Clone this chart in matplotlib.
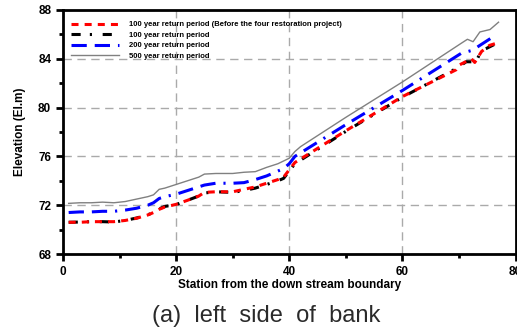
import numpy as np
import matplotlib
matplotlib.use("Agg")
import matplotlib.pyplot as plt

# ---- data ----
x_red = [1, 3, 5, 7, 9, 11, 13, 15, 16, 17, 18, 20, 22, 24, 25, 27, 30, 32, 34, 36, 38, 39, 40, 41,
         50, 60, 69.5, 70.1, 72.2, 72.8, 74.0, 75.4, 76.8]
y_red = [70.6, 70.6, 70.65, 70.65, 70.65, 70.75, 70.93, 71.2, 71.4, 71.66, 71.85, 72.07, 72.4, 72.75, 73.05, 73.1, 73.1, 73.3, 73.5, 73.8, 74.1, 74.3, 74.9, 75.5,
         78.1, 80.9, 83.1, 83.5, 84.0, 83.7, 84.6, 85.1, 85.3]

x_black = [1, 3, 5, 7, 9, 11, 13, 15, 16, 17, 18, 20, 22, 24, 25, 27, 30, 32, 34, 36, 38, 39, 40, 41,
           50, 60, 69.5, 71.3, 73.0, 74.0, 74.9, 76.8]
y_black = [70.6, 70.62, 70.65, 70.65, 70.62, 70.75, 70.95, 71.2, 71.45, 71.7, 71.9, 72.05, 72.4, 72.75, 73.0, 73.1, 73.05, 73.2, 73.4, 73.7, 74.0, 74.2, 74.8, 75.4,
           78.05, 80.85, 83.2, 83.76, 83.75, 84.7, 84.86, 85.3]

x_blue = [1, 3, 5, 7, 9, 11, 13, 15, 16, 17, 18, 20, 22, 24, 25, 27, 30, 32, 34, 36, 38, 39, 40, 41,
          50, 60, 70.4, 72.4, 73.7, 75.7]
y_blue = [71.4, 71.45, 71.45, 71.5, 71.5, 71.6, 71.75, 72.0, 72.2, 72.55, 72.7, 72.9, 73.2, 73.5, 73.65, 73.8, 73.8, 73.85, 74.1, 74.4, 74.8, 75.0, 75.4, 76.0,
          78.6, 81.4, 84.45, 84.7, 85.1, 85.7]

x_gray = [1, 3, 5, 7, 9, 11, 13, 15, 16, 17, 18, 20, 22, 24, 25, 27, 30, 32, 34, 36, 38, 40, 41, 42,
          50, 60, 70.4, 71.5, 72.5, 73.7, 75.5, 77.0]
y_gray = [72.15, 72.2, 72.2, 72.25, 72.2, 72.3, 72.5, 72.7, 72.85, 73.3, 73.4, 73.7, 74.0, 74.3, 74.55, 74.6, 74.6, 74.7, 74.75, 75.1, 75.4, 75.85, 76.4, 76.8,
          79.2, 82.1, 85.27, 85.6, 85.4, 86.2, 86.4, 87.0]

labels = ["100 year return period (Before the four restoration project)",
          "100 year return period",
          "200 year return period",
          "500 year return period"]

plt.rcParams['font.family'] = ['Liberation Sans', 'DejaVu Sans']

fig = plt.figure(figsize=(5.17, 3.34), dpi=100)
ax = fig.add_axes([63 / 517, 1 - 254 / 334, 452.5 / 517, 244 / 334])

ax.plot(x_red, y_red, color='red', lw=2.2, dashes=(2.3, 2.0), label=labels[0], zorder=4)
ax.plot(x_black, y_black, color='black', lw=2.2, dashes=(3.0, 3.0, 0.7, 3.5), label=labels[1], zorder=3)
ax.plot(x_blue, y_blue, color='blue', lw=2.2, dashes=(5.0, 2.6, 5.0, 2.6, 0.7, 2.6), label=labels[2], zorder=3)
ax.plot(x_gray, y_gray, color='gray', lw=1.0, label=labels[3], zorder=3)

ax.set_xlim(0, 80)
ax.set_ylim(68, 88)
ax.set_xticks([0, 20, 40, 60, 80])
ax.set_xticks([10, 30, 50, 70], minor=True)
ax.set_yticks([68, 72, 76, 80, 84, 88])
ax.set_yticks([70, 74, 78, 82, 86], minor=True)
ax.grid(True, which='major', color='#aaaaaa', linestyle=(0, (6, 4)), lw=1.0)

for s in ax.spines.values():
    s.set_linewidth(2.0)
ax.tick_params(which='major', direction='out', length=5, width=2, labelsize=8.5)
ax.tick_params(which='minor', direction='out', length=3, width=2)
for t in ax.get_xticklabels() + ax.get_yticklabels():
    t.set_fontweight('bold')

ax.set_xlabel("Station from the down stream boundary", fontsize=8.5, fontweight='bold', labelpad=1)
ax.set_ylabel("Elevation (El.m)", fontsize=8.5, fontweight='bold', labelpad=9)

leg = ax.legend(loc='upper left', bbox_to_anchor=(0.013, 0.965), frameon=False,
                prop={'size': 5.5, 'weight': 'bold'}, handlelength=6.3, handletextpad=1.3,
                labelspacing=0.42, borderaxespad=0, borderpad=0.3)

fig.text(266 / 517, 1 - 316 / 334, "(a)  left  side  of  bank", ha='center', va='center',
         fontsize=17, color='#2a2a2a')

fig.savefig("out.png", dpi=100)
